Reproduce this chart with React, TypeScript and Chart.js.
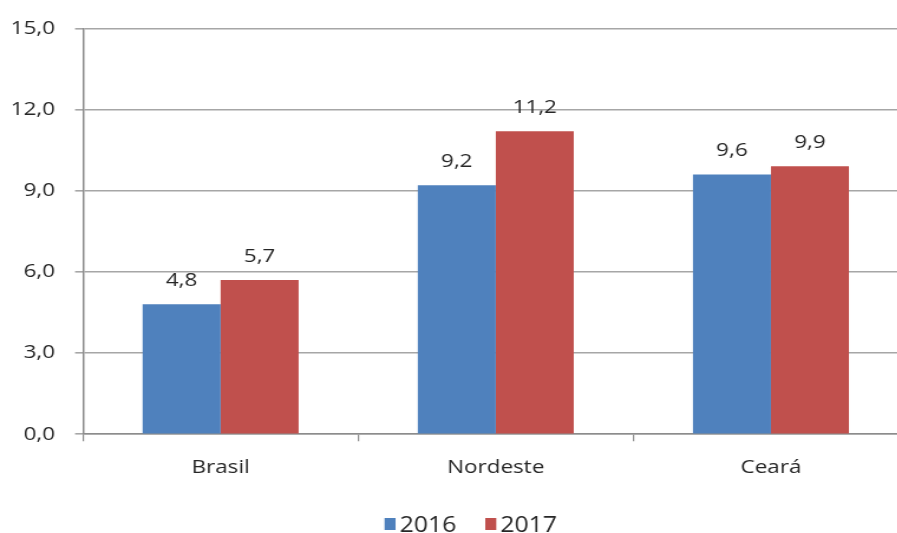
import React, { useEffect, useRef } from "react";
import { Chart, registerables } from "chart.js";

Chart.register(...registerables);

// ---- data ----
const categories = ["Brasil", "Nordeste", "Ceará"];
const seriesLabels = ["2016", "2017"];
const values2016 = [4.8, 9.2, 9.6];
const values2017 = [5.7, 11.2, 9.9];
const yTickMin = 0;
const yTickMax = 15;
const yTickStep = 3;

// ---- style ----
const S = 1.18; // horizontal stretch of the reference picture
const W = 775; // internal canvas width
const H = 533;
const TEXT = "#262626";
const BLUE = "#4F81BD";
const RED = "#C0504D";
const FONT_FAMILY = '"Open Sans", "DejaVu Sans", sans-serif';

const fmt = (v: number) => v.toFixed(1).replace(".", ",");

const dataLabels = {
  id: "dataLabels",
  afterDatasetsDraw(chart: any) {
    const ctx = chart.ctx;
    ctx.save();
    ctx.font = `19px ${FONT_FAMILY}`;
    ctx.fillStyle = TEXT;
    ctx.textAlign = "center";
    ctx.textBaseline = "alphabetic";
    chart.data.datasets.forEach((ds: any, i: number) => {
      const meta = chart.getDatasetMeta(i);
      meta.data.forEach((el: any, j: number) => {
        ctx.fillText(fmt(ds.data[j]), el.x, el.y - 18);
      });
    });
    ctx.restore();
  },
};

const customLegend = {
  id: "customLegend",
  afterDraw(chart: any) {
    const ctx = chart.ctx;
    ctx.save();
    ctx.font = `21px ${FONT_FAMILY}`;
    ctx.textBaseline = "alphabetic";
    ctx.textAlign = "left";
    const boxW = 11 / S;
    const boxH = 12;
    const gap = 4 / S;
    const itemGap = 29 / S;
    const items = chart.data.datasets.map((ds: any) => ({
      label: ds.label,
      color: ds.backgroundColor,
      w: ctx.measureText(ds.label).width,
    }));
    let total = 0;
    items.forEach((it: any, i: number) => {
      total += boxW + gap + it.w + (i < items.length - 1 ? itemGap : 0);
    });
    const center = 470.5 / S;
    let x = center - total / 2;
    const boxTop = 518;
    const baseline = 532;
    items.forEach((it: any) => {
      ctx.fillStyle = it.color;
      ctx.fillRect(x, boxTop, boxW, boxH);
      x += boxW + gap;
      ctx.fillStyle = TEXT;
      ctx.fillText(it.label, x, baseline);
      x += it.w + itemGap;
    });
    ctx.restore();
  },
};

export default function App() {
  const ref = useRef<HTMLCanvasElement | null>(null);

  useEffect(() => {
    if (!ref.current) return;
    const chart = new Chart(ref.current, {
      type: "bar",
      data: {
        labels: categories,
        datasets: [
          {
            label: seriesLabels[0],
            data: values2016,
            backgroundColor: BLUE,
            categoryPercentage: 0.567,
            barPercentage: 1,
          },
          {
            label: seriesLabels[1],
            data: values2017,
            backgroundColor: RED,
            categoryPercentage: 0.567,
            barPercentage: 1,
          },
        ],
      },
      options: {
        responsive: false,
        animation: false,
        devicePixelRatio: 1,
        layout: { padding: { top: 24, right: W - 908 / S, bottom: 39, left: 0 } },
        plugins: { legend: { display: false }, tooltip: { enabled: false } },
        scales: {
          x: {
            offset: true,
            grid: {
              display: true,
              drawOnChartArea: false,
              offset: true,
              tickLength: 7,
              color: "#8c8c8c",
              lineWidth: 1.2,
            },
            border: { color: "#8c8c8c", width: 1.5 },
            ticks: {
              color: TEXT,
              font: { family: FONT_FAMILY, size: 19 },
              padding: 15,
            },
          },
          y: {
            min: yTickMin,
            max: yTickMax,
            ticks: {
              stepSize: yTickStep,
              color: TEXT,
              font: { family: FONT_FAMILY, size: 19 },
              padding: 17,
              callback: (v: any) => fmt(Number(v)),
            },
            grid: { color: "#a6a6a6", lineWidth: 1.6, tickLength: 8 / S },
            border: { color: "#8c8c8c", width: 1.5 },
            afterFit(scale: any) {
              scale.width = 83 / S;
            },
          },
        },
      },
      plugins: [dataLabels, customLegend],
    });
    return () => chart.destroy();
  }, []);

  return (
    <div
      style={{
        position: "fixed",
        left: 0,
        top: 0,
        width: 897,
        height: 533,
        overflow: "hidden",
        background: "#fff",
      }}
    >
      <canvas
        ref={ref}
        width={W}
        height={H}
        style={{ width: `${W * S}px`, height: `${H}px`, display: "block" }}
      />
    </div>
  );
}
